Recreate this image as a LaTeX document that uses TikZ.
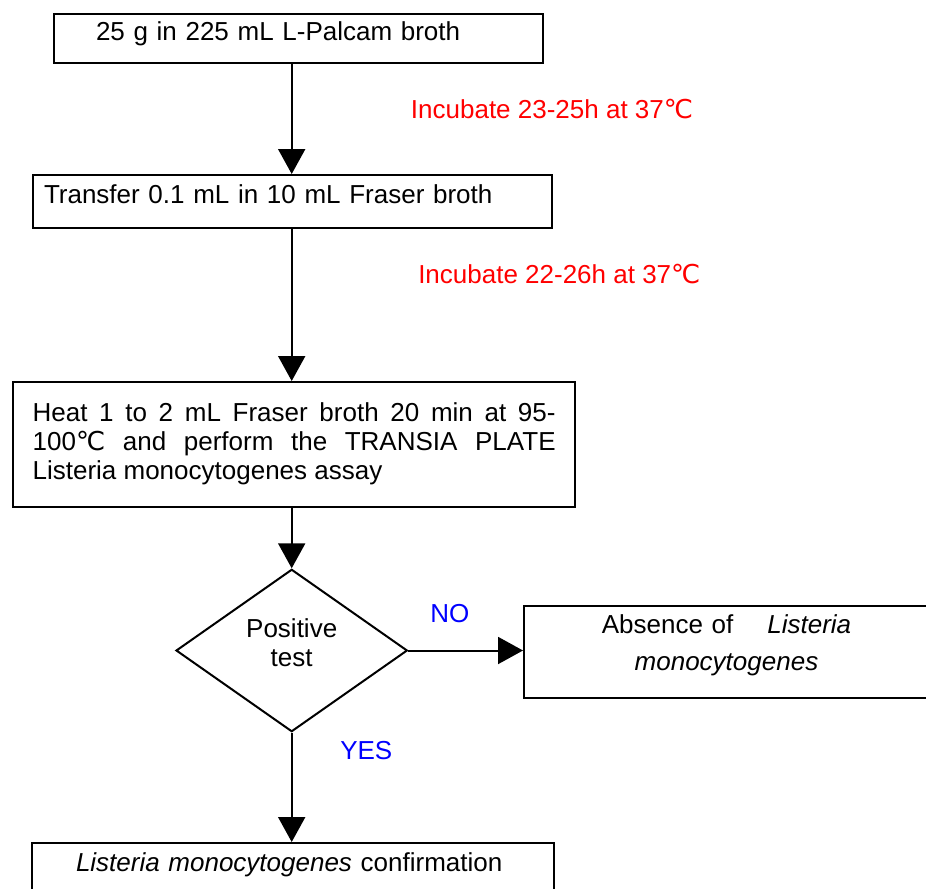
\documentclass[tikz,border=0pt]{standalone}
\usepackage{fontspec}
\setmainfont{Liberation Sans}
\newfontfamily\degfont{DejaVu Sans}
\newcommand{\degc}{{\degfont ℃}}
\usetikzlibrary{shapes.geometric,arrows.meta}

\begin{document}
\begin{tikzpicture}[x=0.75pt,y=-0.75pt,
        every node/.style={font=\fontsize{19.5}{22}\selectfont},
        stepbox/.style={draw,line width=1.5pt,rectangle,anchor=north west,inner ysep=0pt,align=left},
        flow/.style={line width=1.5pt,-{Triangle[length=18.75pt,width=20.25pt]}},
        incub/.style={text=red,anchor=base west,inner sep=0pt},
        answer/.style={text=blue,anchor=base west,inner sep=0pt}]
    \useasboundingbox (0,0) rectangle (926,889);

    \node[stepbox,inner xsep=31.5pt,text width=303.75pt,text height=19.9pt,text depth=17pt] (sample) at (53,12.5) {25 g in 225 mL L-Palcam broth};
    \node[stepbox,inner xsep=8.25pt,text width=372.75pt,text height=21.2pt,text depth=18.2pt] (transfer) at (32,174) {Transfer 0.1 mL in 10 mL Fraser broth};
    \node[stepbox,inner xsep=14.5pt,text width=392.25pt,align=justify,text height=29.25pt,text depth=64.3pt] (heat) at (12.3,381)
        {Heat 1 to 2 mL Fraser broth 20 min at 95-\linebreak 100\degc{} and perform the TRANSIA PLATE\linebreak Listeria monocytogenes assay};
    \node[draw,diamond,line width=1.5pt,minimum width=173.5pt,minimum height=121.8pt,inner sep=0pt,
          text width=72pt,align=center,text height=13.7pt,text depth=33.5pt] (test) at (291.7,650.5) {Positive\\test};
    \node[stepbox,inner xsep=39.375pt,text width=225pt,align=center,text height=20.25pt,text depth=49pt] (absence) at (523,605)
        {Absence of\hspace{19pt} \textit{Listeria}\\[6.4pt]\textit{monocytogenes}};
    \node[stepbox,inner xsep=33pt,text width=325.5pt,text height=21pt,text depth=22.5pt] (confirm) at (31,842)
        {\textit{Listeria monocytogenes} confirmation};

    \node[incub] (inc1) at (410.7,118.3) {Incubate 23-25h at 37\degc};
    \node[incub] (inc2) at (418,283.6) {Incubate 22-26h at 37\degc};
    \node[answer] (no) at (430,622.3) {NO};
    \node[answer] (yes) at (340,759) {YES};

    \draw[flow] (sample.south -| test.north) -- (transfer.north -| test.north);
    \draw[flow] (transfer.south -| test.north) -- (heat.north -| test.north);
    \draw[flow] (heat.south -| test.north) -- (test.north);
    \draw[flow] (test.east) -- (test.east -| absence.west);
    \draw[flow] (test.south) -- (confirm.north -| test.south);
\end{tikzpicture}
\end{document}
